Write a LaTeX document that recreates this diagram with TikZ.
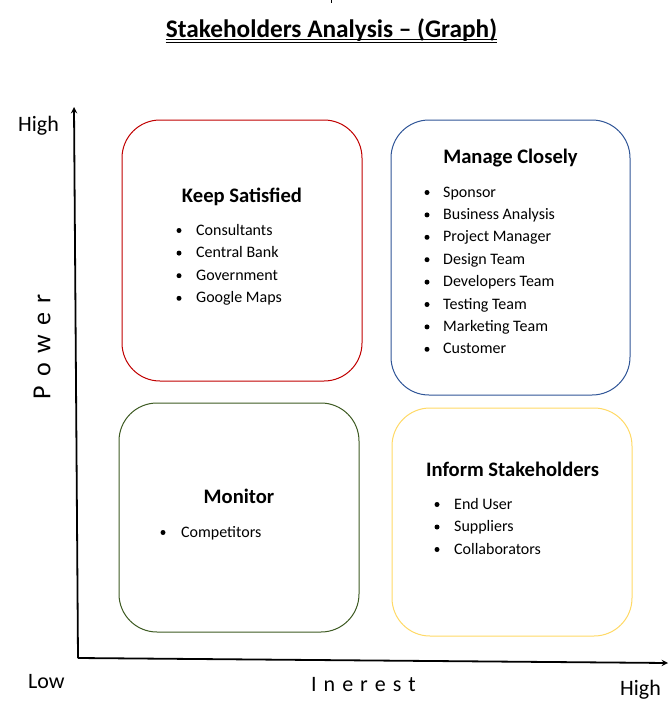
\documentclass[tikz,border=0pt]{standalone}
\usepackage{fontspec}
\setmainfont{Carlito}
\definecolor{ksred}{HTML}{C00000}
\definecolor{mcblue}{HTML}{2F5597}
\definecolor{mogreen}{HTML}{3D5A22}
\definecolor{isyellow}{HTML}{FFD966}
\tikzset{
  quad/.style={draw,rounded corners=38pt,line width=1pt},
  head/.style={font=\fontsize{20.6}{24}\selectfont\bfseries,inner sep=0pt,anchor=base},
  item/.style={font=\fontsize{16}{19}\selectfont,inner sep=0pt,anchor=base west},
  axislabel/.style={font=\fontsize{22}{26}\selectfont,inner sep=0pt}
}
\newcommand{\gap}{\hspace{7pt}}
\newcommand{\wgap}{\hspace{9.5pt}}
\begin{document}
\begin{tikzpicture}[x=1pt,y=-1pt,>=stealth]
\useasboundingbox (0,0) rectangle (671,713);
\draw (331,0)--(331,3);
% title
\node[font=\fontsize{25.3}{30}\selectfont\bfseries,inner sep=0pt,anchor=base] (title) at (331.5,37) {Stakeholders Analysis -- (Graph)};
\draw[line width=.9pt] ([yshift=-2.6pt]title.base west)--([yshift=-2.6pt]title.base east);
\draw[line width=.9pt] ([yshift=-5pt]title.base west)--([yshift=-5pt]title.base east);
% axes
\coordinate (o) at (78,658);
\coordinate (ytop) at (74,107);
\coordinate (xend) at (668,663);
\draw[->,line width=1.8pt](o)--(ytop);
\draw[->,line width=1.8pt](o)--(xend);
\node[axislabel,anchor=base west] (yhigh) at (18,131) {High};
\node[axislabel,anchor=base west] (low) at (28,688) {Low};
\node[axislabel,anchor=base west] (xhigh) at (620,695) {High};
\node[axislabel,font=\fontsize{26}{30}\selectfont,rotate=90] (power) at (42,347) {P\wgap o\wgap w\wgap e\wgap r};
\node[axislabel,anchor=base] (interest) at (363.5,691) {I\gap n\gap e\gap r\gap e\gap s\gap t};
% quadrants
\draw[quad,ksred](122,120) rectangle (362,381);
\draw[quad,mcblue](391,120) rectangle (630,395);
\draw[quad,mogreen](119,403) rectangle (359,632);
\draw[quad,isyellow](392,408) rectangle (632,636);
\node[head] (keep) at (242,202) {Keep Satisfied};
\node[head] (manage) at (510.5,163) {Manage Closely};
\node[head] (monitor) at (239,503) {Monitor};
\node[head] (inform) at (512.5,476) {Inform Stakeholders};
\foreach \t [count=\i from 0] in {Consultants,Central Bank,Government,Google Maps}{
  \node[item] (keep\i) at (196,{235+22.6*\i}) {\t};
  \fill (179,{230.5+22.6*\i}) circle (2.5pt);
}
\foreach \t [count=\i from 0] in {Sponsor,Business Analysis,Project Manager,Design Team,Developers Team,Testing Team,Marketing Team,Customer}{
  \node[item] (manage\i) at (443,{197+22.4*\i}) {\t};
  \fill (427,{192.5+22.4*\i}) circle (2.5pt);
}
\node[item] (monitor0) at (181,537) {Competitors};
\fill (163,532.5) circle (2.5pt);
\foreach \t [count=\i from 0] in {End User,Suppliers,Collaborators}{
  \node[item] (inform\i) at (454,{509+22.5*\i}) {\t};
  \fill (437,{504.5+22.5*\i}) circle (2.5pt);
}
\end{tikzpicture}
\end{document}
